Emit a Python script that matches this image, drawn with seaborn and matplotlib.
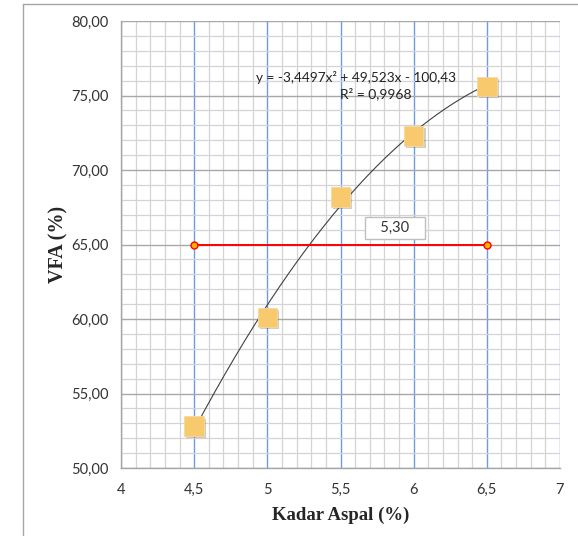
import numpy as np
import pandas as pd
import matplotlib
matplotlib.use("Agg")
import matplotlib.pyplot as plt
import matplotlib.patheffects as pe
from matplotlib.lines import Line2D
import seaborn as sns

# ---- data ----
kadar_aspal = [4.5, 5.0, 5.5, 6.0, 6.5]
vfa = [52.8, 60.1, 68.2, 72.3, 75.6]
coef = [-3.4497, 49.523, -100.43]   # trendline from chart label
r2 = 0.9968
spec_x = [4.5, 6.5]
spec_y = [65.0, 65.0]
opt_label = "5,30"
x_ticks = [4, 4.5, 5, 5.5, 6, 6.5, 7]
x_tick_labels = ["4", "4,5", "5", "5,5", "6", "6,5", "7"]
y_ticks = [50, 55, 60, 65, 70, 75, 80]
y_tick_labels = ["50,00", "55,00", "60,00", "65,00", "70,00", "75,00", "80,00"]

sns.set_style("white")
plt.rcParams['font.family'] = ['Lato', 'DejaVu Sans']

fig = plt.figure(figsize=(5.78, 5.39), dpi=100)
ax = fig.add_axes([121/578, 1-468/539, (560-121)/578, (468-21)/539])

# outer frame (left & top)
fig.add_artist(Line2D([23/578, 23/578], [1-535/539, 1-4/539], color="#A6A6A6", lw=1))
fig.add_artist(Line2D([23/578, 1.0], [1-4/539, 1-4/539], color="#A6A6A6", lw=1))

ax.set_xlim(4, 7)
ax.set_ylim(50, 80)

# grid
ax.set_xticks(np.arange(4, 7.001, 0.1), minor=True)
ax.set_yticks(np.arange(50, 80.001, 1), minor=True)
ax.grid(which="minor", color="#D4D4D4", lw=0.9)
ax.set_xticks(x_ticks)
ax.set_xticklabels(x_tick_labels)
ax.set_yticks(y_ticks)
ax.set_yticklabels(y_tick_labels)
ax.grid(which="major", axis="y", color="#A8A8A8", lw=1.0)
ax.grid(which="major", axis="x", color="#7099DE", lw=1.0)
ax.set_axisbelow(True)

for s in ["top", "right"]:
    ax.spines[s].set_visible(False)
for s in ["left", "bottom"]:
    ax.spines[s].set_color("#A6A6A6")
    ax.spines[s].set_linewidth(1)
ax.tick_params(axis="both", which="major", length=5, color="#A6A6A6", labelsize=10.5,
               labelcolor="#333333", direction="out")
ax.tick_params(axis="both", which="minor", length=0)
ax.tick_params(axis="x", pad=6)
ax.tick_params(axis="y", pad=4)

# trendline
xs = np.linspace(kadar_aspal[0], kadar_aspal[-1], 200)
ys = np.polyval(coef, xs)
sns.lineplot(x=xs, y=ys, ax=ax, color="#404040", lw=0.8, zorder=3)

# red spec line
sns.lineplot(x=spec_x, y=spec_y, ax=ax, color="#FF0000", lw=1.4, marker="o",
             markersize=5, markerfacecolor="#FFB000", markeredgecolor="#FF0000",
             markeredgewidth=1, zorder=4)

# data points
sns.scatterplot(x=kadar_aspal, y=vfa, ax=ax, marker="s", s=200,
                color="#F9C96E", edgecolor="#F5D9A0", linewidth=0.6, zorder=5)
for coll in ax.collections:
    coll.set_path_effects([pe.SimplePatchShadow(offset=(1.5, -1.5), alpha=0.25), pe.Normal()])

# equation
ax.text(5.606, 76.2, "y = -3,4497x² + 49,523x - 100,43", ha="center", va="center",
        fontsize=9.8, color="#222222")
ax.text(5.74, 75.15, "R² = 0,9968", ha="center", va="center", fontsize=10, color="#222222")

# optimum label
ax.text(5.87, 66.1, "   " + opt_label + "   ", ha="center", va="center", fontsize=10.5,
        color="#333333",
        bbox=dict(boxstyle="square,pad=0.3", fc="white", ec="#BFBFBF", lw=1),
        zorder=6)

ax.set_xlabel("Kadar Aspal (%)", fontsize=13.5, fontweight="bold",
              family="Liberation Serif", labelpad=7)
ax.set_ylabel("VFA (%)", fontsize=14.5, fontweight="bold",
              family="Liberation Serif", labelpad=2)

fig.savefig("out.png", dpi=100)
